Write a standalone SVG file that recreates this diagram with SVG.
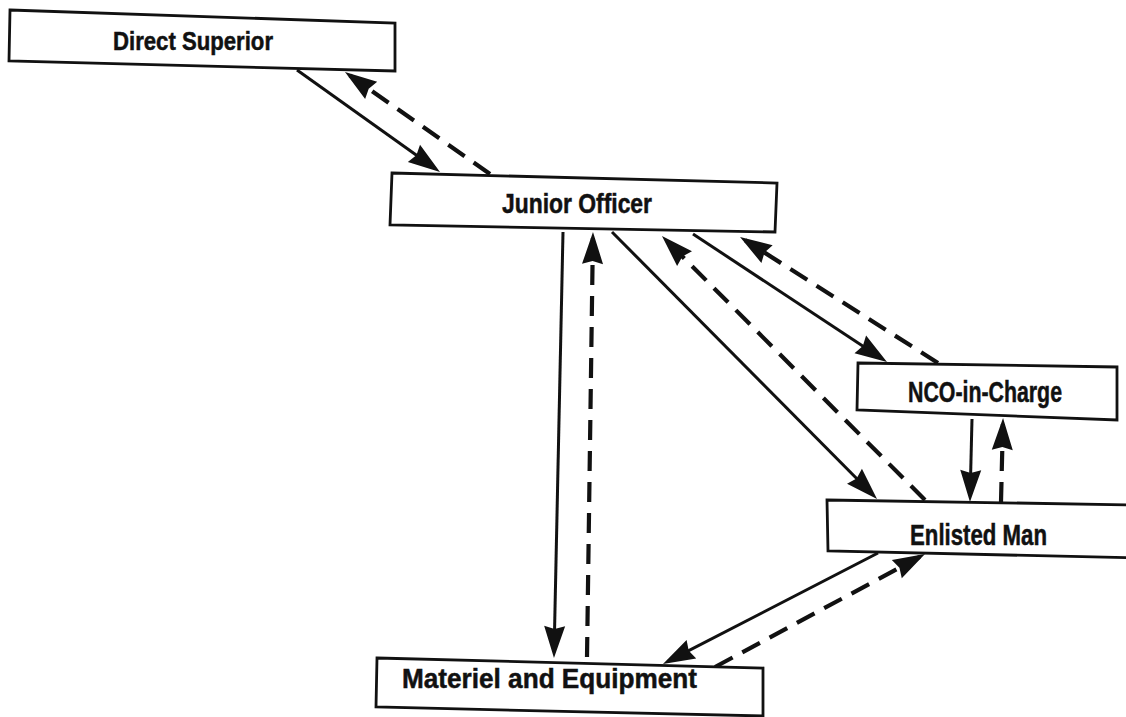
<svg xmlns="http://www.w3.org/2000/svg" width="1126" height="717" viewBox="0 0 1126 717">
<style>
.box{fill:#fff;stroke:#111;stroke-width:2.8;stroke-linejoin:miter}
.lbl{font-family:"Liberation Sans",Arial,sans-serif;font-weight:bold;fill:#111;stroke:#111;stroke-width:0.5}
.s{fill:none;stroke:#111;stroke-width:3;marker-end:url(#ah)}
.d{fill:none;stroke:#111;stroke-width:4.2;stroke-dasharray:20 11;marker-end:url(#ah)}
</style>
<defs>
<marker id="ah" markerUnits="userSpaceOnUse" markerWidth="34" markerHeight="22" refX="26" refY="10.5" orient="auto" overflow="visible">
<path d="M0,0 L32,10.5 L0,21 L3,10.5 z" fill="#111" stroke="none"/>
</marker>
</defs>
<rect width="1126" height="717" fill="#fff"/>
<g id="connectors">
<path class="s" d="M297,70 L435.1,168.5"/>
<path class="d" d="M490,174 L349.9,75.5"/>
<path class="s" d="M563,232 L554.1,652"/>
<path class="d" d="M587,657 L592.9,238"/>
<path class="s" d="M612,232 L872.8,494.7"/>
<path class="d" d="M925,500 L666.2,240.2"/>
<path class="s" d="M693,234 L882,358.7"/>
<path class="d" d="M938,363 L745.1,240.2"/>
<path class="s" d="M972,419 L970.1,496"/>
<path class="d" d="M1001,502 L1002.9,424"/>
<path class="s" d="M878,553 L668.3,661.2"/>
<path class="d" d="M715,667 L919.7,556.8"/>
</g>
<g id="direct-superior">
<polygon class="box" points="10,10 395,23 395,71 9,61"/>
<text class="lbl" x="113" y="50" font-size="25" textLength="160" lengthAdjust="spacingAndGlyphs">Direct Superior</text>
</g>
<g id="junior-officer">
<polygon class="box" points="392,173 777,183 775,232 390,225"/>
<text class="lbl" x="502" y="213" font-size="27" textLength="150" lengthAdjust="spacingAndGlyphs">Junior Officer</text>
</g>
<g id="nco-in-charge">
<polygon class="box" points="858,363 1117,367 1117,420 857,410"/>
<text class="lbl" x="908" y="402" font-size="29" textLength="154" lengthAdjust="spacingAndGlyphs">NCO-in-Charge</text>
</g>
<g id="enlisted-man">
<polygon class="box" points="827,500 1140,505 1140,558 828,551"/>
<text class="lbl" x="910" y="545" font-size="29" textLength="137" lengthAdjust="spacingAndGlyphs">Enlisted Man</text>
</g>
<g id="materiel-and-equipment">
<polygon class="box" points="377,658 763,668 763,716 376,707"/>
<text class="lbl" x="402" y="688" font-size="27" textLength="295" lengthAdjust="spacingAndGlyphs">Materiel and Equipment</text>
</g>
</svg>
